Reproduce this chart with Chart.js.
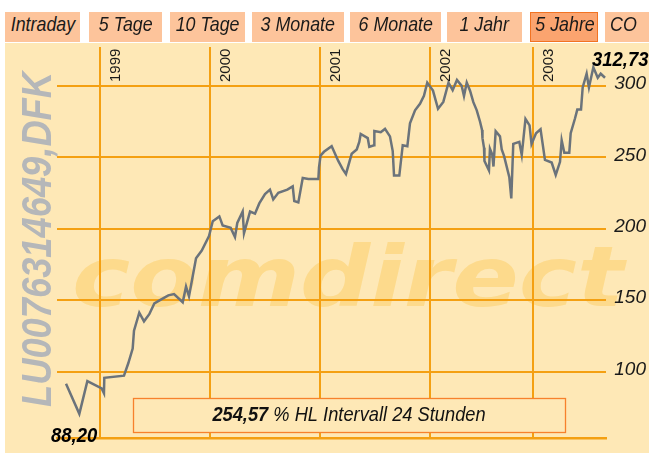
<!DOCTYPE html>
<html>
<head>
<meta charset="utf-8">
<script src="https://cdn.jsdelivr.net/npm/chart.js@4.4.0/dist/chart.umd.min.js"></script>
<style>
  body { margin: 0; background: #fff; }
  #wrap { position: relative; width: 649px; height: 453px; overflow: hidden; }
  canvas { position: absolute; left: 0; top: 0; }
  .tab {
    position: absolute; top: 12px; height: 30px; line-height: 31px;
    background: #fdc49b; color: #1a1a1a; text-align: center; box-sizing: border-box;
    font: italic 21px "Liberation Sans", sans-serif;
    white-space: nowrap;
  }
  .tab span { display: inline-block; transform: scaleX(0.85); transform-origin: 50% 50%; }
  .tab.co { text-align: left; padding-left: 5px; }
  .tab.co span { transform-origin: 0 50%; }
  .tab.on { background: #fba46f; box-shadow: inset 0 0 0 1px #f27322; }
</style>
</head>
<body>
<div id="wrap">
  <canvas id="myChart" width="649" height="453"></canvas>
</div>
<script>
// tabs
const tabNames = ["Intraday", "5 Tage", "10 Tage", "3 Monate", "6 Monate", "1 Jahr", "5 Jahre", "CO"];
const activeTab = "5 Jahre";

// time axis (decimal years) and fund price
const tPos = [
  1998.691, 1998.812, 1998.885, 1999.015, 1999.036, 1999.039, 1999.218, 1999.257, 1999.297, 1999.309,
  1999.357, 1999.400, 1999.448, 1999.494, 1999.545, 1999.621, 1999.673, 1999.752, 1999.782, 1999.809,
  1999.873, 1999.925, 1999.991, 2000.025, 2000.085, 2000.115, 2000.188, 2000.227, 2000.248, 2000.297,
  2000.309, 2000.364, 2000.409, 2000.448, 2000.500, 2000.545, 2000.575, 2000.621, 2000.703, 2000.752,
  2000.766, 2000.803, 2000.843, 2000.894, 2000.985, 2000.991, 2001.005, 2001.036, 2001.106, 2001.166,
  2001.206, 2001.236, 2001.288, 2001.334, 2001.357, 2001.370, 2001.434, 2001.448, 2001.491, 2001.494,
  2001.552, 2001.591, 2001.636, 2001.661, 2001.673, 2001.721, 2001.752, 2001.794, 2001.818, 2001.864,
  2001.909, 2001.945, 2001.975, 2002.027, 2002.073, 2002.121, 2002.168, 2002.206, 2002.245, 2002.288,
  2002.309, 2002.334, 2002.364, 2002.394, 2002.425, 2002.455, 2002.473, 2002.477, 2002.491, 2002.495,
  2002.536, 2002.545, 2002.566, 2002.577, 2002.597, 2002.636, 2002.652, 2002.673, 2002.721, 2002.739,
  2002.757, 2002.812, 2002.834, 2002.868, 2002.905, 2002.923, 2002.964, 2003.005, 2003.045, 2003.106,
  2003.143, 2003.182, 2003.197, 2003.221, 2003.266, 2003.279, 2003.318, 2003.339, 2003.373, 2003.388,
  2003.424, 2003.445, 2003.485, 2003.525, 2003.552, 2003.591
];
const price = [
  91.6, 70.5, 93.4, 88.3, 84.9, 95.7, 97.2, 105.9, 116.2, 128.7,
  141.3, 135.2, 140.2, 147.7, 150.0, 153.4, 154.3, 148.6, 159.5, 152.7,
  179.4, 184.7, 194.9, 205.2, 208.6, 202.3, 200.6, 194.2, 204.0, 212.0,
  196.8, 212.0, 210.5, 217.7, 224.2, 227.3, 220.5, 225.1, 227.3, 229.6,
  219.4, 218.4, 235.5, 234.8, 234.8, 242.9, 251.1, 253.8, 257.7, 247.4,
  241.7, 238.3, 252.4, 255.4, 260.7, 266.3, 263.4, 257.2, 258.4, 268.4,
  267.5, 269.8, 264.6, 254.3, 237.2, 237.2, 258.4, 257.7, 273.7, 282.8,
  287.4, 293.0, 302.2, 296.6, 283.9, 288.7, 302.1, 296.9, 304.0, 299.9,
  292.8, 302.2, 296.5, 288.5, 282.8, 274.8, 269.1, 263.4, 256.6, 247.4,
  240.8, 255.9, 251.8, 243.5, 268.2, 264.6, 255.4, 250.9, 236.0, 221.2,
  259.3, 260.7, 251.6, 276.8, 272.3, 259.3, 266.8, 269.6, 248.1, 246.3,
  237.6, 246.8, 261.8, 253.1, 253.1, 266.8, 277.1, 283.3, 283.3, 298.8,
  308.4, 298.8, 312.9, 305.6, 308.4, 305.6
];

// year grid lines and their labels
const yearLabels = ["1999", "2000", "2001", "2002", "2003"];
const yearPos = [1999, 2000, 2001, 2002, 2002.94];
// value grid lines
const valueTicks = [100, 150, 200, 250, 300];

const isin = "LU0076314649,DFK";
const lowLabel = "88,20";
const highLabel = "312,73";
const perfValue = "254,57";
const perfText = " % HL Intervall 24 Stunden";
const watermark = "comdirect";

const ORANGE = "#f4a012";
const BG = "#fee8b6";
const SANS = '"Liberation Sans", sans-serif';

// build tab bar
const tabLeft = [5, 89, 170, 252, 350, 447, 530, 605];
const tabRight = [80, 162, 245, 344, 441, 522, 598, 660];
const wrap = document.getElementById("wrap");
tabNames.forEach((name, i) => {
  const d = document.createElement("div");
  d.className = "tab" + (name === activeTab ? " on" : "") + (i === tabNames.length - 1 ? " co" : "");
  d.style.left = tabLeft[i] + "px";
  d.style.width = (tabRight[i] - tabLeft[i]) + "px";
  const s = document.createElement("span");
  s.textContent = name;
  d.appendChild(s);
  wrap.appendChild(d);
});

// draw condensed text (scaled horizontally)
function narrowText(ctx, text, x, y, sx) {
  ctx.save();
  ctx.translate(x, y);
  ctx.scale(sx, 1);
  ctx.fillText(text, 0, 0);
  ctx.restore();
}

const decor = {
  id: "decor",
  beforeDraw(chart) {
    const ctx = chart.ctx;
    ctx.save();
    ctx.fillStyle = BG;
    ctx.fillRect(5, 43, 644, 410);

    // watermark
    ctx.font = 'italic bold 84px "DejaVu Sans"';
    ctx.textAlign = "left";
    ctx.textBaseline = "alphabetic";
    let w = ctx.measureText(watermark).width;
    ctx.translate(72, 306);
    ctx.scale(552 / w, 1);
    ctx.fillStyle = "#fdda8c";
    ctx.fillText(watermark, 0, 0);
    ctx.restore();

    // vertical ISIN
    ctx.save();
    ctx.font = "italic bold 42px " + SANS;
    w = ctx.measureText(isin).width;
    ctx.translate(51, 407);
    ctx.rotate(-Math.PI / 2);
    ctx.scale(335 / w, 1);
    ctx.fillStyle = "#b5b7b9";
    ctx.fillText(isin, 0, 0);
    ctx.restore();
  },
  afterDraw(chart) {
    const ctx = chart.ctx;
    const xs = chart.scales.x;

    // year labels
    ctx.save();
    ctx.font = "15px " + SANS;
    ctx.fillStyle = "#1a1a1a";
    ctx.textAlign = "left";
    ctx.textBaseline = "alphabetic";
    yearPos.forEach((v, i) => {
      const px = xs.getPixelForValue(v);
      ctx.save();
      ctx.translate(px + 20, 82);
      ctx.rotate(-Math.PI / 2);
      ctx.fillText(yearLabels[i], 0, 0);
      ctx.restore();
    });

    // high / low
    ctx.font = "italic bold 21px " + SANS;
    ctx.fillStyle = "#000";
    narrowText(ctx, highLabel, 592, 66, 0.88);
    narrowText(ctx, lowLabel, 51, 442, 0.88);

    // performance box
    ctx.fillStyle = BG;
    ctx.fillRect(133, 398, 432, 34);
    ctx.strokeStyle = "#f7812c";
    ctx.lineWidth = 1.3;
    ctx.strokeRect(133.5, 398.5, 432, 34);
    const sx = 0.87;
    ctx.font = "italic bold 21px " + SANS;
    const w1 = ctx.measureText(perfValue).width * sx;
    ctx.font = "italic 21px " + SANS;
    const w2 = ctx.measureText(perfText).width * sx;
    const x0 = 349 - (w1 + w2) / 2;
    ctx.fillStyle = "#111";
    ctx.font = "italic bold 21px " + SANS;
    narrowText(ctx, perfValue, x0, 421, sx);
    ctx.font = "italic 21px " + SANS;
    narrowText(ctx, perfText, x0 + w1, 421, sx);
    ctx.restore();
  }
};

new Chart("myChart", {
  type: "line",
  data: {
    datasets: [
      {
        data: tPos.map((t, i) => ({ x: t, y: price[i] })),
        borderColor: "#6b737b",
        borderWidth: 2.5,
        pointRadius: 0,
        tension: 0,
        fill: false,
      },
    ],
  },
  options: {
    responsive: false,
    animation: false,
    layout: { padding: { left: 57, top: 47, right: 3, bottom: 6 } },
    plugins: {
      legend: { display: false },
      tooltip: { enabled: false },
    },
    scales: {
      x: {
        type: "linear",
        position: "bottom",
        min: 1998.609,
        max: 2003.6,
        afterBuildTicks: (scale) => {
          scale.ticks = yearPos.map((v) => ({ value: v }));
        },
        ticks: { display: false },
        grid: { color: ORANGE, lineWidth: 2, drawTicks: false },
        border: { display: true, color: ORANGE, width: 2.5 },
      },
      y: {
        type: "linear",
        position: "right",
        min: 53.2,
        max: 327.1,
        afterBuildTicks: (scale) => {
          scale.ticks = valueTicks.map((v) => ({ value: v }));
        },
        afterFit: (scale) => {
          scale.width = 40;
        },
        ticks: {
          crossAlign: "far",
          labelOffset: -2,
          color: "#1a1a1a",
          font: { family: SANS, size: 19, style: "italic" },
        },
        grid: { color: ORANGE, lineWidth: 2, drawTicks: false },
        border: { display: false },
      },
    },
  },
  plugins: [decor],
});
</script>
</body>
</html>
